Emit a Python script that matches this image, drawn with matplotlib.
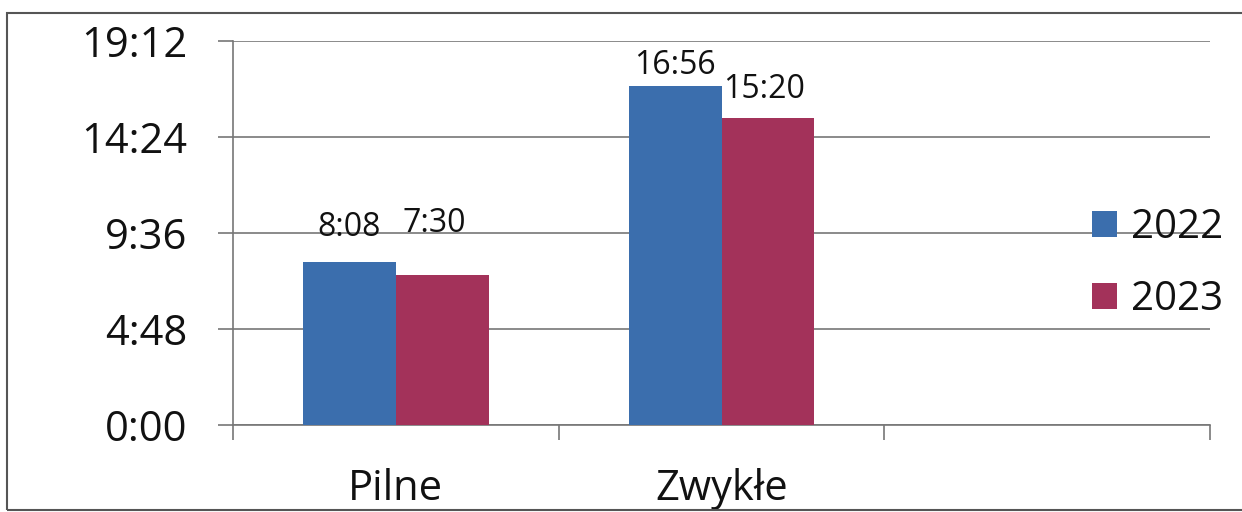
import matplotlib.pyplot as plt
import matplotlib.patches as patches
import numpy as np
from matplotlib.ticker import FuncFormatter

# czas oczekiwania w minutach
categories = ['Pilne', 'Zwykłe', '']
years = ['2022', '2023']
values_2022 = [8 * 60 + 8, 16 * 60 + 56]
values_2023 = [7 * 60 + 30, 15 * 60 + 20]
labels_2022 = ['8:08', '16:56']
labels_2023 = ['7:30', '15:20']
y_ticks = [0, 288, 576, 864, 1152]

blue = '#3b6ead'
red = '#a3325a'
grid_col = '#777777'
font = 'Open Sans'


def hmm(v, pos=None):
    v = int(round(v))
    return '%d:%02d' % (v // 60, v % 60)


fig = plt.figure(figsize=(12.42, 5.12), dpi=100)
ax = fig.add_axes([233 / 1242, 1 - 425 / 512, (1210 - 233) / 1242, (425 - 41) / 512])

x = np.arange(len(values_2022))
w = 0.285
b1 = ax.bar(x - w / 2, values_2022, w, color=blue, zorder=3)
b2 = ax.bar(x + w / 2, values_2023, w, color=red, zorder=3)

# etykiety danych (przesunięcia jak w oryginale)
off_2022 = [(0, 26), (0, 12)]
off_2023 = [(-8, 43), (-4, 20)]
for bars, labs, offs in [(b1, labels_2022, off_2022), (b2, labels_2023, off_2023)]:
    for rect, lab, off in zip(bars, labs, offs):
        ax.annotate(lab, (rect.get_x() + rect.get_width() / 2, rect.get_height()),
                    xytext=off, textcoords='offset pixels', ha='center', va='baseline',
                    fontsize=23, family=font, color='#111111')

ax.set_ylim(0, y_ticks[-1])
ax.set_yticks(y_ticks)
ax.yaxis.set_major_formatter(FuncFormatter(hmm))
ax.set_xlim(-0.5, len(categories) - 0.5)
ax.set_xticks(np.arange(len(categories) + 1) - 0.5)
ax.set_xticklabels([])
ax.set_xticks(x[:2], categories[:2], minor=True)
ax.tick_params(axis='x', which='minor', length=0, pad=31, labelsize=30)
ax.tick_params(axis='x', which='major', length=11, width=1.2, color=grid_col)
ax.tick_params(axis='y', length=11, width=1.2, color=grid_col, pad=22, labelsize=30)
for t in ax.get_xticklabels(minor=True) + ax.get_yticklabels():
    t.set_family(font)
    t.set_color('#111111')

ax.grid(axis='y', color=grid_col, linewidth=1.2, zorder=0)
for s in ['top', 'right']:
    ax.spines[s].set_visible(False)
for s in ['left', 'bottom']:
    ax.spines[s].set_color(grid_col)
    ax.spines[s].set_linewidth(1.2)

leg = ax.legend([b1, b2], years, loc='center left', bbox_to_anchor=(1092 / 1242, 1 - 264 / 512),
                bbox_transform=fig.transFigure, frameon=False,
                borderaxespad=0, borderpad=0,
                handlelength=0.62, handleheight=0.62, handletextpad=0.35, labelspacing=0.78,
                prop={'family': font, 'size': 29})
for t in leg.get_texts():
    t.set_color('#111111')

# ramka wykresu
fig.add_artist(patches.Rectangle((7 / 1242, 1 - 510 / 512), 1.1, 1 - 13 / 512 - (1 - 510 / 512),
                                 transform=fig.transFigure, fill=False,
                                 edgecolor='#555555', linewidth=1.5))

fig.savefig('out.png', dpi=100)
